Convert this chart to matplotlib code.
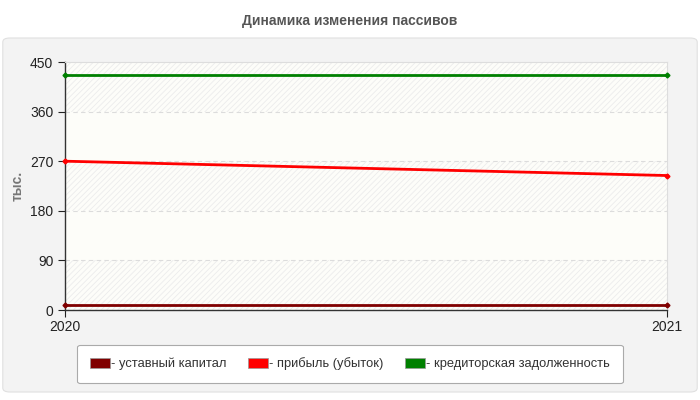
import matplotlib.pyplot as plt
from matplotlib.patches import FancyBboxPatch
import matplotlib as mpl

years = ["2020", "2021"]
ustavnyi = [9, 9]
pribyl = [270, 244]
kreditor = [426, 426]

series_names = ["- уставный капитал", "- прибыль (убыток)", "- кредиторская задолженность"]
series_colors = ["#800000", "#ff0000", "#008000"]
yticks = [0, 90, 180, 270, 360, 450]

plt.rcParams['font.family'] = ['Arial', 'Liberation Sans', 'DejaVu Sans']
mpl.rcParams['hatch.color'] = '#e6e6e6'
mpl.rcParams['hatch.linewidth'] = 0.6

fig = plt.figure(figsize=(7, 4), dpi=100)
fig.patch.set_facecolor('white')

# outer grey panel
panel = FancyBboxPatch((0.004, 0.02), 0.992, 0.885, boxstyle="round,pad=0,rounding_size=0.01",
                       transform=fig.transFigure, facecolor='#f3f3f3', edgecolor='#e0e0e0', lw=0.8,
                       zorder=-10)
fig.patches.append(panel)

fig.text(0.5, 0.948, "Динамика изменения пассивов", ha='center', va='center',
         fontsize=10, fontweight='bold', color='#555555')

ax = fig.add_axes([0.093, 0.225, 0.860, 0.620])
ax.set_facecolor('#fdfdf9')
x = list(range(len(years)))

# alternating bands
for i in range(len(yticks) - 1):
    if i % 2 == 0:
        ax.axhspan(yticks[i], yticks[i + 1], facecolor='#fdfdf9', edgecolor='#ececec',
                   hatch='//////', lw=0, zorder=0)
for yv in yticks[1:-1]:
    ax.axhline(yv, color='#dcdcdc', lw=0.8, ls=(0, (4, 3)), zorder=1)

for vals, col in zip([ustavnyi, pribyl, kreditor], series_colors):
    ax.plot(x, vals, color=col, lw=2, marker='D', ms=2.5, zorder=3, clip_on=False)

ax.set_xlim(0, 1)
ax.set_ylim(0, 450)
ax.set_yticks(yticks)
ax.set_xticks(x)
ax.set_xticklabels(years)
ax.tick_params(axis='both', labelsize=10, colors='#222222', length=5, width=0.8)
ax.tick_params(axis='x', pad=2)
for s in ['top', 'right']:
    ax.spines[s].set_color('#dddddd')
    ax.spines[s].set_linewidth(0.8)
for s in ['left', 'bottom']:
    ax.spines[s].set_color('#333333')
    ax.spines[s].set_linewidth(1)
ax.set_ylabel("тыс.", fontsize=10, color='#777777', fontweight='bold', labelpad=4)

# legend
handles = [plt.Rectangle((0, 0), 1, 1, facecolor=c, edgecolor='#999999', lw=0.5) for c in series_colors]
leg = fig.legend(handles, series_names, loc='center', bbox_to_anchor=(0.5, 0.09), ncol=3,
                 fontsize=9.3, frameon=True, fancybox=True, edgecolor='#aaaaaa', facecolor='white',
                 handlelength=1.5, handleheight=0.75, handletextpad=0.1, columnspacing=1.7,
                 borderpad=1.0, framealpha=1)
for t in leg.get_texts():
    t.set_color('#333333')
leg.get_frame().set_linewidth(0.8)

fig.savefig("out.png", dpi=100)
